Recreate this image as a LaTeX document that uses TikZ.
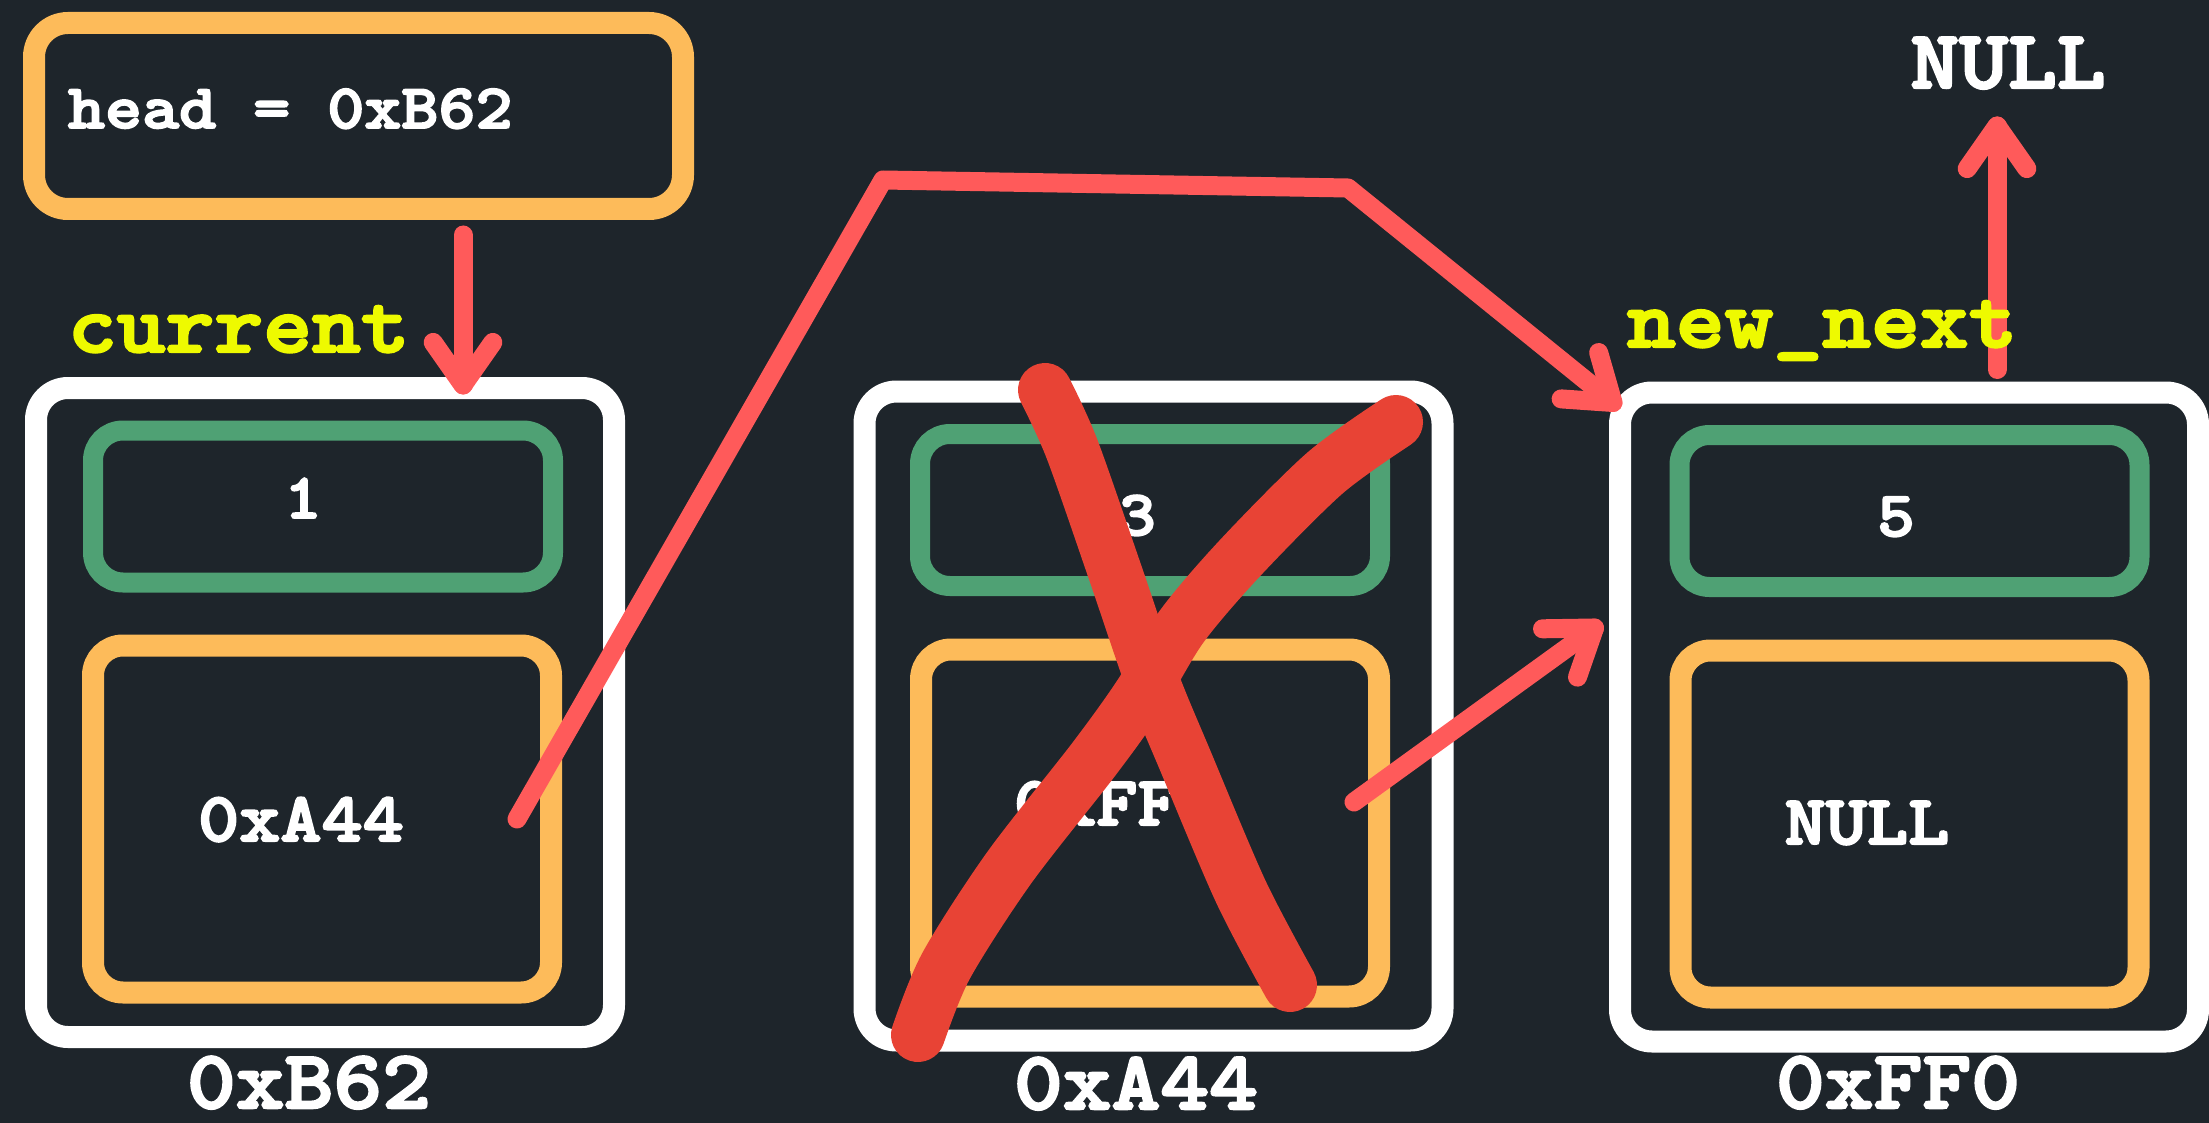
\documentclass[tikz,border=0pt]{standalone}
\usepackage{fontspec}
\usetikzlibrary{calc}
\newfontfamily\codefont[FakeStretch=1.12,FakeBold=3]{lmmonolt10-bold.otf}
\newcommand\cfs[1]{\codefont\fontsize{#1}{#1}\selectfont}
\definecolor{bg}{HTML}{1E252B}
\definecolor{orng}{HTML}{FDBB5A}
\definecolor{grn}{HTML}{4FA174}
\definecolor{ptr}{HTML}{FF5A5A}
\definecolor{xred}{HTML}{E84335}
\definecolor{ylw}{HTML}{EEFA00}
\tikzset{
  box/.style={rectangle, inner sep=0pt, line width=22pt},
  nodebox/.style={box, draw=white, rounded corners=32pt, minimum width=578pt, minimum height=649pt},
  valbox/.style={box, draw=grn, line width=20pt, rounded corners=30pt, minimum width=460pt, minimum height=152pt},
  ptrbox/.style={box, draw=orng, rounded corners=30pt, minimum width=458pt, minimum height=347pt},
  headbox/.style={box, draw=orng, rounded corners=34pt, minimum width=649pt, minimum height=186pt},
  lbl/.style={inner sep=0pt, outer sep=0pt, anchor=base, text=white},
  arr/.style={draw=ptr, line width=19pt, line cap=round, line join=round},
  xstroke/.style={draw=xred, line width=54pt, line cap=round, line join=round}
}
\newcommand\mybarb[2]{\draw[arr] ($(#1)!52pt!35:(#2)$) -- (#1) -- ($(#1)!52pt!-35:(#2)$);}
\begin{document}
\begin{tikzpicture}[x=1pt,y=-1pt]
\fill[bg] (0,0) rectangle (2209,1123);
\useasboundingbox (0,0) rectangle (2209,1123);

% head variable
\node[headbox] (head) at (358.5,116) {};
\node[lbl, anchor=base west, font=\cfs{63}] (headtxt) at (68,128) {head = 0xB62};

% list nodes
\node[nodebox] (n1) at (325,712.5) {};
\node[valbox]  (g1) at (323,506.5) {};
\node[ptrbox]  (o1) at (322,819) {};
\node[nodebox] (n2) at (1153.5,716) {};
\node[valbox]  (g2) at (1150,510) {};
\node[ptrbox]  (o2) at (1150,823) {};
\node[nodebox] (n3) at (1909,717) {};
\node[valbox]  (g3) at (1909.5,511) {};
\node[ptrbox]  (o3) at (1909.5,824) {};

% values
\node[lbl, font=\cfs{64}] (v1) at (303,518) {1};
\node[lbl, font=\cfs{64}] (v2) at (1137,535) {3};
\node[lbl, font=\cfs{64}] (v3) at (1896,536) {5};
\node[lbl, font=\cfs{70}] (a1) at (301,841) {0xA44};
\node[lbl, font=\cfs{70}, anchor=base west] (a2) at (1014,825) {0xFF0};
\node[lbl, font=\cfs{70}] (a3) at (1867,844) {NULL};

% addresses
\node[lbl, font=\cfs{83}] (ad1) at (309,1108) {0xB62};
\node[lbl, font=\cfs{83}] (ad2) at (1136,1109) {0xA44};
\node[lbl, font=\cfs{83}] (ad3) at (1898,1108) {0xFF0};

% top NULL and its arrow
\node[lbl, font=\cfs{83}] (nulltop) at (2008,88) {NULL};
\coordinate (t4) at ([shift={(-11,38)}]nulltop.base);
\draw[arr] ([shift={(88,-12)}]n3.north) -- (t4);
\mybarb{t4}{n3.north -| t4}

% variable labels
\node[lbl, anchor=base west, text=ylw, font=\cfs{83}] (cur) at (68,352) {current};
\node[lbl, anchor=base west, text=ylw, font=\cfs{83}] (nn) at (1627,347) {new\_next};

% head -> node 1
\coordinate (t1) at ([shift={(138,8)}]n1.north);
\draw[arr] ([shift={(104.5,15)}]head.south) -- (t1);
\mybarb{t1}{head.south -| t1}

% node1 next -> node3 (rerouted)
\coordinate (p0) at ([shift={(195,0)}]o1.center);
\coordinate (k1) at (883,180);
\coordinate (k2) at (1348,188);
\coordinate (t2) at ([shift={(4,21)}]n3.north west);
\draw[arr] (p0) -- (k1) -- (k2) -- (t2);
\mybarb{t2}{k2}

% node2 next -> node3
\coordinate (p1) at ([shift={(204,-21)}]o2.center);
\coordinate (t3) at ([shift={(-14.5,-89)}]n3.west);
\draw[arr] (p1) -- (t3);
\mybarb{t3}{p1}

% big X over node 2
\draw[xstroke] plot[smooth, tension=0.5] coordinates {(1045,390) (1072,449) (1115,572) (1152,680) (1185,760) (1241,892) (1290,985)};
\draw[xstroke] plot[smooth, tension=0.5] coordinates {(1396,422) (1325,473) (1241,557) (1182,626) (1140,695) (1094,759) (1009,868) (946,966) (918,1035)};
\end{tikzpicture}
\end{document}
